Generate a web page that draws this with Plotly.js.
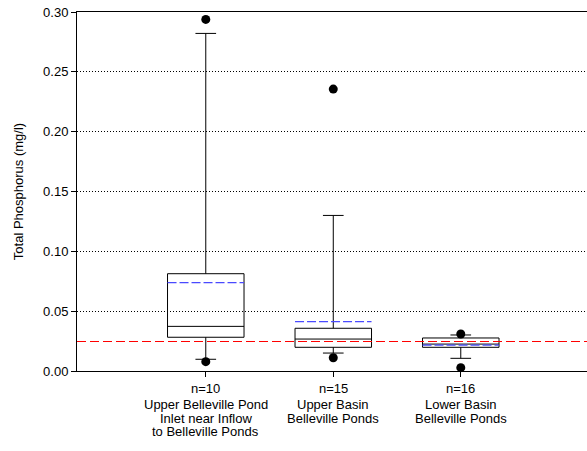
<!DOCTYPE html>
<html>
<head>
<meta charset="utf-8">
<script src="https://cdn.plot.ly/plotly-3.0.1.min.js"></script>
<style>
html,body{margin:0;padding:0;background:#fff;}
#chart{width:587px;height:451px;}
#chart .shapelayer path{shape-rendering:crispEdges;}
</style>
</head>
<body>
<div id="chart"></div>
<script>
// ---- data ----
const positions = [1, 2, 3];
const counts = ["n=10", "n=15", "n=16"];
const siteLines = [
  ["Upper Belleville Pond", "Inlet near Inflow", "to Belleville Ponds"],
  ["Upper Basin", "Belleville Ponds"],
  ["Lower Basin", "Belleville Ponds"]
];
const q1 = [0.0282, 0.0198, 0.0198];
const medians = [0.0373, 0.0267, 0.0225];
const q3 = [0.0813, 0.0357, 0.0276];
const lowerWhisker = [0.0098, 0.0150, 0.0106];
const upperWhisker = [0.2821, 0.1300, 0.0301];
const means = [0.0738, 0.0412, 0.0217];
const outlierSite = [1, 1, 2, 2, 3, 3];
const outlierValues = [0.2938, 0.0078, 0.2356, 0.0111, 0.0309, 0.0028];
const referenceLevel = 0.025;
const yTicks = [0, 0.05, 0.10, 0.15, 0.20, 0.25, 0.30];

// ---- styles ----
const boxWidth = 0.6;
const font = "Liberation Sans, Arial, sans-serif";

const boxTrace = {
  type: "box",
  x: positions,
  q1: q1, median: medians, q3: q3,
  lowerfence: lowerWhisker, upperfence: upperWhisker,
  width: boxWidth,
  whiskerwidth: 0.27,
  fillcolor: "rgba(255,255,255,0)",
  line: {color: "#000", width: 1},
  boxpoints: false,
  hoverinfo: "skip",
  showlegend: false
};

const mx = [], my = [];
positions.forEach((p, i) => {
  mx.push(p - boxWidth / 2, p + boxWidth / 2, null);
  my.push(means[i], means[i], null);
});
const meanTrace = {
  type: "scatter", mode: "lines", x: mx, y: my,
  line: {color: "#4a4aff", width: 1.3, dash: "9px,3px"},
  hoverinfo: "skip", showlegend: false
};

const outlierTrace = {
  type: "scatter", mode: "markers", x: outlierSite, y: outlierValues,
  marker: {color: "#000", size: 9},
  hoverinfo: "skip", showlegend: false, cliponaxis: false
};

const annotations = [];
positions.forEach((p, i) => {
  annotations.push({
    x: p, xref: "x", y: 0, yref: "paper", yanchor: "middle", xanchor: "center",
    yshift: -17, text: counts[i], showarrow: false,
    font: {family: font, size: 13, color: "#000"}
  });
  siteLines[i].forEach((t, j) => {
    annotations.push({
      x: p, xref: "x", y: 0, yref: "paper", yanchor: "middle", xanchor: "center",
      yshift: -33.5 - 13.6 * j, text: t, showarrow: false,
      font: {family: font, size: 13, color: "#000"}
    });
  });
});

const layout = {
  width: 587, height: 451,
  margin: {l: 77, r: 0, t: 12, b: 80},
  paper_bgcolor: "#fff", plot_bgcolor: "#fff",
  font: {family: font, size: 13, color: "#000"},
  showlegend: false,
  xaxis: {
    range: [-0.01, 3.99],
    tickvals: positions, ticktext: ["", "", ""],
    ticks: "outside", ticklen: 5, tickcolor: "#000", tickwidth: 1,
    showline: true, linecolor: "#000", linewidth: 1, mirror: true,
    showgrid: false, zeroline: false, fixedrange: true
  },
  yaxis: {
    range: [0, 0.30],
    tickvals: yTicks, tickformat: ".2f",
    ticks: "outside", ticklen: 5, tickcolor: "#000", tickwidth: 1,
    showline: true, linecolor: "#000", linewidth: 1,
    showgrid: true, gridcolor: "#000", gridwidth: 1, griddash: "1px,2px",
    zeroline: false,
    title: {text: "Total Phosphorus (mg/l)", font: {family: font, size: 13}, standoff: 16},
    tickfont: {family: font, size: 13}
  },
  shapes: [{
    type: "line", xref: "paper", x0: 0, x1: 1, yref: "y", y0: referenceLevel, y1: referenceLevel,
    line: {color: "#ff0000", width: 1, dash: "9px,4px"}, layer: "above"
  }],
  annotations: annotations
};

Plotly.newPlot("chart", [boxTrace, meanTrace, outlierTrace], layout, {displayModeBar: false, staticPlot: true});
</script>
</body>
</html>
